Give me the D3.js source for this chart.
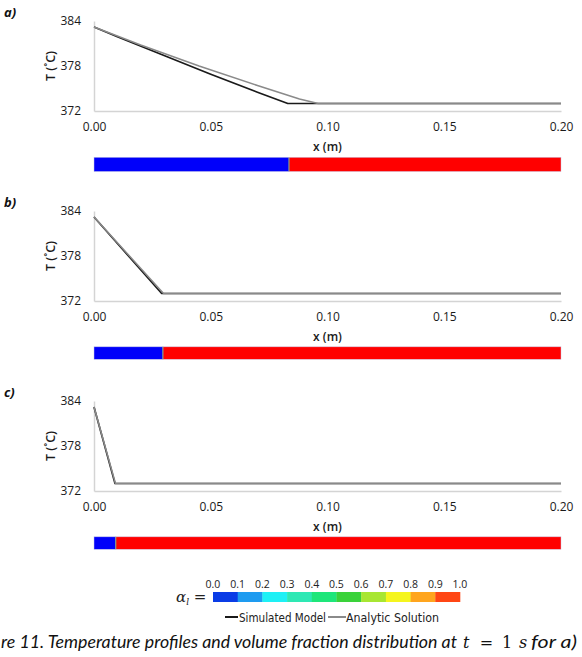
<!DOCTYPE html>
<html><head><meta charset="utf-8">
<script src="https://cdn.jsdelivr.net/npm/d3@7"></script>
<style>body{margin:0;background:#fff}svg{display:block}</style>
</head><body>
<script>
// ---- data ----
const panelLabels = ["a)", "b)", "c)"];
const xTicks = [0, 0.05, 0.10, 0.15, 0.20];
const yTicks = [372, 378, 384];

const simX_a = [0, 0.010, 0.030, 0.050, 0.070, 0.083, 0.20];
const simT_a = [383.2, 381.9, 379.4, 376.9, 374.5, 373.0, 373.0];
const anaX_a = [0, 0.020, 0.045, 0.070, 0.088, 0.096, 0.20];
const anaT_a = [383.2, 380.8, 378.0, 375.4, 373.6, 373.0, 373.0];

const simX_b = [0, 0.029, 0.20];
const simT_b = [383.2, 373.0, 373.0];
const anaX_b = [0, 0.0298, 0.20];
const anaT_b = [383.2, 373.0, 373.0];

const simX_c = [0, 0.009, 0.20];
const simT_c = [383.2, 373.0, 373.0];
const anaX_c = [0, 0.0092, 0.20];
const anaT_c = [383.2, 373.0, 373.0];

const meltFront = [0.0835, 0.0295, 0.0093];   // x where alpha_l switches 0 -> 1

const alphaTicks = ["0.0","0.1","0.2","0.3","0.4","0.5","0.6","0.7","0.8","0.9","1.0"];
const alphaColors = ["#0a3ce6","#1e9bf0","#1ef0f5","#2ee8b4","#1ee67a","#3ad23a","#a8e632","#f5f51e","#ffa51e","#ff4614"];
const legendNames = ["Simulated Model", "Analytic Solution"];

// ---- drawing ----
const W = 582, H = 657;
const svg = d3.select("body").append("svg").attr("width", W).attr("height", H);
const tickFont = "'Open Sans', Lato, sans-serif";

const x = d3.scaleLinear().domain([0, 0.20]).range([94, 561]);
const series = [
  [[simX_a, simT_a], [anaX_a, anaT_a]],
  [[simX_b, simT_b], [anaX_b, anaT_b]],
  [[simX_c, simT_c], [anaX_c, anaT_c]]
];
const offsets = [0, 190, 380];
const stripTop = [157.3, 346.8, 536.8];
const stripH = [14.2, 12.5, 12.5];
const lineColors = ["#1a1a1a", "#8a8a8a"];

panelLabels.forEach((lab, i) => {
  const off = offsets[i];
  const y = d3.scaleLinear().domain([372, 384]).range([111 + off, 21 + off]);
  const g = svg.append("g");

  g.append("text").attr("x", 4).attr("y", 17 + off).text(lab)
    .attr("font-family", "'Open Sans', sans-serif").attr("font-style", "italic")
    .attr("font-weight", "bold").attr("font-size", 13).attr("fill", "#111");

  const ax = d3.axisBottom(x).tickValues(xTicks).tickFormat(d3.format(".2f")).tickSize(0).tickPadding(11);
  const gx = g.append("g").attr("transform", `translate(0,${y(372)})`).call(ax);
  gx.select(".domain").attr("stroke", "#d4d4d4").attr("stroke-width", 1.5);
  gx.selectAll("text").attr("font-family", tickFont).attr("font-size", 12).attr("fill", "#1a1a1a");

  const ay = d3.axisLeft(y).tickValues(yTicks).tickFormat(d3.format("d")).tickSize(0).tickPadding(13);
  const gy = g.append("g").attr("transform", `translate(${x(0)},0)`).call(ay);
  gy.select(".domain").attr("stroke", "#d4d4d4").attr("stroke-width", 1.5);
  gy.selectAll("text").attr("font-family", tickFont).attr("font-size", 12).attr("fill", "#1a1a1a");

  g.append("text").attr("transform", `translate(55,${66 + off}) rotate(-90)`)
    .attr("text-anchor", "middle").text("T (˚C)")
    .attr("font-family", tickFont).attr("font-weight", 600).attr("font-size", 12.5).attr("fill", "#1a1a1a");
  g.append("text").attr("x", 327.5).attr("y", 150.5 + off).attr("text-anchor", "middle").text("x (m)")
    .attr("font-family", tickFont).attr("font-weight", 600).attr("font-size", 12).attr("fill", "#1a1a1a");

  series[i].forEach((s, k) => {
    const pts = s[0].map((xv, j) => [xv, s[1][j]]);
    g.append("path").datum(pts)
      .attr("d", d3.line().x(d => x(d[0])).y(d => y(d[1])))
      .attr("fill", "none").attr("stroke", lineColors[k]).attr("stroke-width", k === 0 ? 1.7 : 1.5)
      .attr("stroke-linejoin", "round");
  });

  const st = stripTop[i], sh = stripH[i];
  g.append("rect").attr("x", x(0)).attr("y", st).attr("width", x(meltFront[i]) - x(0)).attr("height", sh)
    .attr("fill", "#0000fa");
  g.append("rect").attr("x", x(meltFront[i])).attr("y", st).attr("width", x(0.20) - x(meltFront[i])).attr("height", sh)
    .attr("fill", "#ff0000");
  g.append("line").attr("x1", x(meltFront[i])).attr("x2", x(meltFront[i])).attr("y1", st).attr("y2", st + sh)
    .attr("stroke", "#7f9f8f").attr("stroke-width", 1.2);
  g.append("rect").attr("x", x(0)).attr("y", st).attr("width", x(0.20) - x(0)).attr("height", sh)
    .attr("fill", "none").attr("stroke", "rgba(200,200,230,0.8)").attr("stroke-width", 0.6);
});

// ---- colour bar ----
const cb = d3.scaleLinear().domain([0, 1]).range([213, 460]);
const cbg = svg.append("g");
alphaColors.forEach((c, i) => {
  cbg.append("rect").attr("x", cb(i / 10)).attr("y", 592).attr("width", cb((i + 1) / 10) - cb(i / 10) + 0.3)
    .attr("height", 10).attr("fill", c);
});
alphaTicks.forEach((t, i) => {
  cbg.append("text").attr("x", cb(i / 10)).attr("y", 588).attr("text-anchor", "middle").text(t)
    .attr("font-family", tickFont).attr("font-size", 10.5).attr("fill", "#222");
});
const al = cbg.append("text").attr("x", 176).attr("y", 602)
  .attr("font-family", "'DejaVu Serif', 'Liberation Serif', serif").attr("font-size", 15).attr("fill", "#222");
al.append("tspan").attr("font-style", "italic").text("α");
al.append("tspan").attr("font-style", "italic").attr("font-size", 9).attr("dy", 3).text("l");
al.append("tspan").attr("dy", -3).text(" =");

// ---- legend ----
const lg = svg.append("g");
const legX = [225, 328];
const legTextX = [239, 346];
const legLen = [87, 93];
legendNames.forEach((n, i) => {
  lg.append("line").attr("x1", legX[i]).attr("x2", legX[i] + (i === 0 ? 13 : 18)).attr("y1", 617).attr("y2", 617)
    .attr("stroke", lineColors[i]).attr("stroke-width", 2);
  lg.append("text").attr("x", legTextX[i]).attr("y", 621.5).text(n)
    .attr("textLength", legLen[i]).attr("lengthAdjust", "spacingAndGlyphs")
    .attr("font-family", "'DejaVu Sans', sans-serif").attr("font-size", 11.5).attr("fill", "#222");
});

// ---- caption ----
const capFont = "Lato, 'Open Sans', sans-serif";
svg.append("text").attr("x", 1).attr("y", 648).text("re 11. Temperature profiles and volume fraction distribution at")
  .attr("textLength", 456).attr("lengthAdjust", "spacingAndGlyphs")
  .attr("font-family", capFont).attr("font-style", "italic").attr("font-size", 17.5).attr("fill", "#111");
const mathFont = "'DejaVu Serif', 'Liberation Serif', serif";
svg.append("text").attr("x", 463).attr("y", 648).text("t").attr("font-family", mathFont).attr("font-style", "italic").attr("font-size", 16).attr("fill", "#111");
svg.append("text").attr("x", 486.5).attr("y", 648).attr("text-anchor", "middle").text("=").attr("font-family", mathFont).attr("font-size", 16).attr("fill", "#111");
svg.append("text").attr("x", 502).attr("y", 648).text("1").attr("font-family", mathFont).attr("font-size", 16).attr("fill", "#111");
svg.append("text").attr("x", 519).attr("y", 648).text("s").attr("font-family", mathFont).attr("font-style", "italic").attr("font-size", 16).attr("fill", "#111");
svg.append("text").attr("x", 531).attr("y", 648).text("for a)")
  .attr("textLength", 46).attr("lengthAdjust", "spacingAndGlyphs")
  .attr("font-family", capFont).attr("font-style", "italic").attr("font-size", 17.5).attr("fill", "#111");
</script>
</body></html>
